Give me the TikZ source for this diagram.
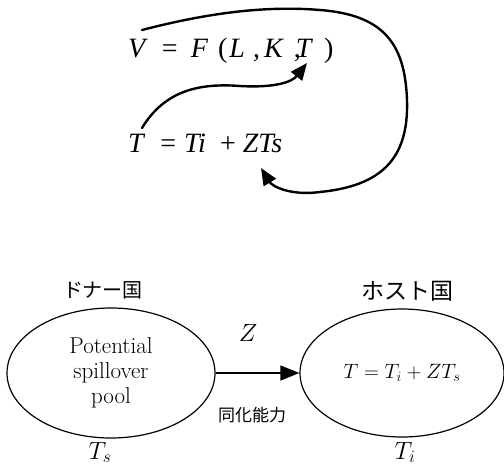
\documentclass[tikz,border=0pt]{standalone}
\usepackage{fontspec}
\usepackage{tikz}
\usetikzlibrary{arrows.meta,shapes.geometric}
\newfontfamily\timesfont{Liberation Serif}
\newfontfamily\jpfont{Noto Sans CJK JP}

\begin{document}
\begin{tikzpicture}[x=1pt, y=-1pt, >={Triangle[length=17pt,width=14pt]},
	pool/.style={draw, line width=1.2pt, ellipse, inner sep=0pt, align=center},
	eqn/.style={font=\timesfont\fontsize{28}{32}\selectfont, anchor=base west, inner sep=0pt},
	loop/.style={line width=2.4pt, ->, line cap=round}]
	\useasboundingbox (0,0) rectangle (504,467);
	% equations
	\node[eqn] (prod) at (128,57) {\textit{V}\hspace{14pt}=\hspace{13pt}\textit{F}\hspace{10pt}(\hspace{2pt}\textit{L}\hspace{8pt},\hspace{4pt}\textit{K}\hspace{10pt},\hspace{-5pt}\textit{T}\hspace{11pt})};
	\node[eqn] (tech) at (128,152) {\textit{T}\hspace{15pt}=\hspace{8pt}\textit{Ti}\hspace{14pt}+\hspace{7pt}\textit{ZTs}};
	\coordinate (upstart) at (142,128);
	\coordinate (upend) at (307,63);
	\coordinate (bigstart) at (142,30);
	\coordinate (bigend) at (261,168);
	\draw[loop] (upstart) .. controls (165,90) and (200,83) .. (240,86) .. controls (275,88) and (292,82) .. (upend);
	\draw[loop] (bigstart) .. controls (200,15) and (260,5) .. (320,10) .. controls (385,15) and (405,45) .. (407,100) .. controls (409,160) and (380,186) .. (320,192) .. controls (290,196) and (272,186) .. (bigend);
	% countries
	\node[pool, minimum width=208pt, minimum height=130pt, font=\fontsize{23}{25}\selectfont] (donor) at (111,373) {Potential\\ spillover\\ pool};
	\node[pool, minimum width=204pt, minimum height=128pt, font=\fontsize{20.5}{24}\selectfont] (host) at (402,373) {$T = T_i + ZT_s$};
	\draw[-{Triangle[length=19pt,width=15pt]}, line width=1.2pt] (donor.east) -- (host.west);
	\node[font=\jpfont\fontsize{20}{22}\selectfont] (donorlbl) at (103,290) {ドナー国};
	\node[font=\jpfont\fontsize{23}{25}\selectfont] (hostlbl) at (407,291) {ホスト国};
	\node[font=\fontsize{25}{27}\selectfont] (zlbl) at (248,333) {$Z$};
	\node[font=\jpfont\fontsize{17}{19}\selectfont] (abs) at (252,415) {同化能力};
	\node[font=\fontsize{25}{27}\selectfont, anchor=base, inner sep=0pt] (ts) at (100,459) {$T_s$};
	\node[font=\fontsize{25}{27}\selectfont, anchor=base, inner sep=0pt] (ti) at (405,459) {$T_i$};
\end{tikzpicture}
\end{document}
